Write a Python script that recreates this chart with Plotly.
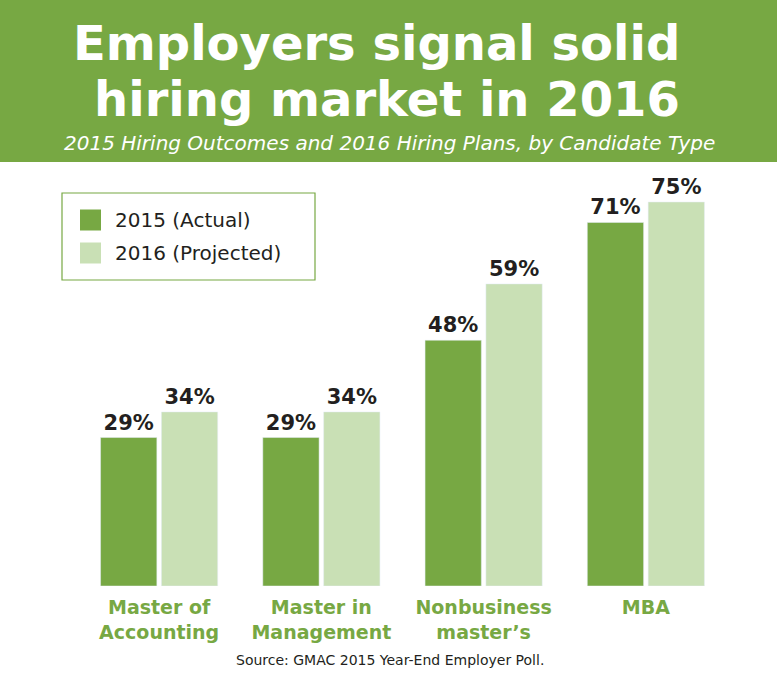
import plotly.graph_objects as go

# data
categories = ["Master of<br>Accounting", "Master in<br>Management",
              "Nonbusiness<br>master’s", "MBA"]
actual_2015 = [29, 29, 48, 71]
projected_2016 = [34, 34, 59, 75]
series_names = ["2015 (Actual)", "2016 (Projected)"]

GREEN = "#77a843"
LIGHT = "#c9e0b5"
FONT = "DejaVu Sans"


def px_x(p):
    # page pixel -> paper x
    return (p - 78) / 649


def px_y(p):
    # page pixel -> paper y
    return (586 - p) / 416


fig = go.Figure()
for vals, name, col in [(actual_2015, series_names[0], GREEN),
                        (projected_2016, series_names[1], LIGHT)]:
    fig.add_trace(go.Bar(
        x=categories, y=vals, name=name, marker_color=col,
        text=[f"{v}%" for v in vals], textposition="outside",
        textfont=dict(family=FONT, size=21, color="#231f20", weight=700),
        cliponaxis=False, showlegend=False, hoverinfo="skip",
    ))

# green title banner
fig.add_shape(type="rect", xref="paper", yref="paper",
              x0=-0.2, x1=1.2, y0=px_y(162), y1=1.5,
              fillcolor=GREEN, line_width=0, layer="below")

fig.add_annotation(text="<b>Employers signal solid</b>", xref="paper", yref="paper",
                   x=px_x(376), y=px_y(43), showarrow=False, yanchor="middle",
                   font=dict(family=FONT, size=48, color="white"))
fig.add_annotation(text="<b>hiring market in 2016</b>", xref="paper", yref="paper",
                   x=px_x(387), y=px_y(99), showarrow=False, yanchor="middle",
                   font=dict(family=FONT, size=48, color="white"))
fig.add_annotation(text="<i>2015 Hiring Outcomes and 2016 Hiring Plans, by Candidate Type</i>",
                   xref="paper", yref="paper", x=px_x(389), y=px_y(143),
                   showarrow=False, yanchor="middle",
                   font=dict(family=FONT, size=20, color="white"))

# legend box drawn by hand (bigger swatches than plotly's legend)
fig.add_shape(type="rect", xref="paper", yref="paper",
              x0=px_x(62), x1=px_x(315), y0=px_y(280), y1=px_y(193),
              line=dict(color=GREEN, width=1.2), fillcolor="white")
for i, (name, col) in enumerate(zip(series_names, [GREEN, LIGHT])):
    cy = 220 + i * 33
    fig.add_shape(type="rect", xref="paper", yref="paper",
                  x0=px_x(80), x1=px_x(101), y0=px_y(cy + 10.5), y1=px_y(cy - 10.5),
                  line_width=0, fillcolor=col)
    fig.add_annotation(text=name, xref="paper", yref="paper",
                       x=px_x(113), y=px_y(cy), xanchor="left", yanchor="middle",
                       showarrow=False,
                       font=dict(family=FONT, size=20, color="#231f20"))

fig.add_annotation(text="Source: GMAC 2015 Year-End Employer Poll.",
                   xref="paper", yref="paper", x=px_x(390), y=px_y(660),
                   showarrow=False, yanchor="middle",
                   font=dict(family=FONT, size=14, color="#231f20"))

fig.update_layout(
    width=777, height=680,
    margin=dict(l=78, r=50, t=170, b=94),
    paper_bgcolor="white", plot_bgcolor="white",
    barmode="group", bargap=0.25, bargroupgap=0.075,
    hovermode=False,
    xaxis=dict(showgrid=False, showline=False, ticks="", ticklabelstandoff=8,
               tickfont=dict(family=FONT, size=19, color=GREEN, weight=700)),
    yaxis=dict(range=[0, 81.25], visible=False),
)

fig.write_html("out.html", config={"displayModeBar": False},
               post_script="document.body.style.margin='0px';")
